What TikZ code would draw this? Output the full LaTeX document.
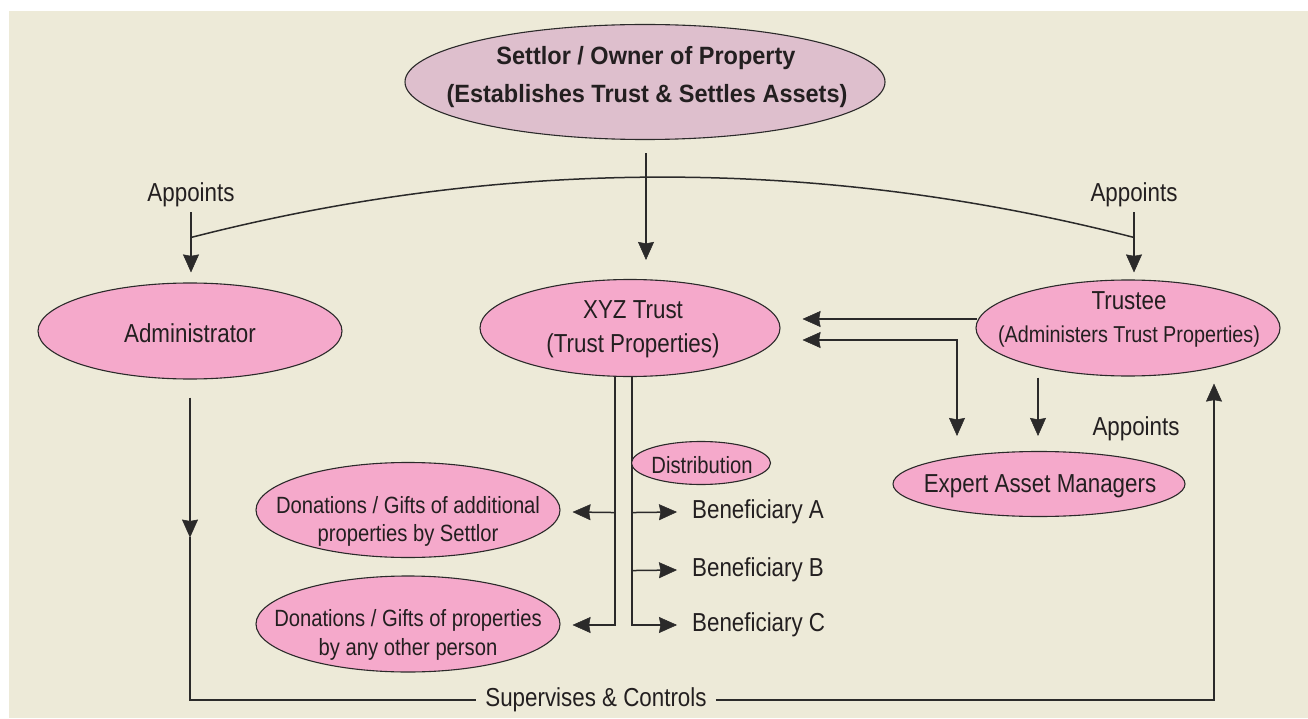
\documentclass[tikz,border=0pt]{standalone}
\usepackage{fontspec}
\setmainfont{Liberation Sans}[FakeStretch=0.86]
\newfontfamily\titlef{Liberation Sans}[FakeStretch=0.94]
\usetikzlibrary{shapes.geometric,arrows.meta,calc}
\definecolor{bgc}{HTML}{EDEAD8}
\definecolor{pinkc}{HTML}{F5A9CB}
\definecolor{mauvec}{HTML}{DEBFCD}
\definecolor{linec}{HTML}{2B2A2A}
\definecolor{txtc}{HTML}{231F20}
\begin{document}
\begin{tikzpicture}[x=1pt,y=-1pt,
  ell/.style={ellipse,draw=linec,line width=1.1pt,fill=pinkc,inner sep=0pt},
  lbl/.style={text=txtc,inner sep=0pt,font=\fontsize{26}{31}\selectfont},
  small/.style={text=txtc,inner sep=0pt,font=\fontsize{23.5}{28}\selectfont},
  ttl/.style={text=txtc,inner sep=0pt,font=\titlef\bfseries\fontsize{25}{30}\selectfont},
  conn/.style={draw=linec,line width=1.5pt},
  tipshape/.tip={Stealth[length=18pt,width=16pt,inset=1.5pt,line width=0.5pt]},
  arr/.style={conn,-tipshape},
  darr/.style={conn,tipshape-tipshape}
]
\useasboundingbox (0,0) rectangle (1308,719);
\fill[white] (0,0) rectangle (1308,719);
\fill[bgc] (9,11) rectangle (1308,718);

% ellipses
\node[ell,fill=mauvec,minimum width=480pt,minimum height=115pt] (settlor) at (645,82) {};
\node[ell,minimum width=304pt,minimum height=96pt] (admin) at (190,331) {};
\node[ell,minimum width=300pt,minimum height=97pt] (xyz) at (630,328) {};
\node[ell,minimum width=304pt,minimum height=96pt] (trustee) at (1128,328) {};
\node[ell,minimum width=292pt,minimum height=65pt] (expert) at (1039,484) {};
\node[ell,minimum width=304pt,minimum height=95pt] (don1) at (408,510) {};
\node[ell,minimum width=304pt,minimum height=96pt] (don2) at (408,624) {};

% texts
\node[ttl,anchor=base] (t1) at (646,65) {Settlor / Owner of Property};
\node[ttl,anchor=base] (t2) at (647,103) {(Establishes Trust \& Settles Assets)};
\node[lbl,anchor=base] (admint) at (190,342) {Administrator};
\node[lbl,anchor=base] (xyzt1) at (633,318) {XYZ Trust};
\node[lbl,anchor=base] (xyzt2) at (633,352) {(Trust Properties)};
\node[lbl,anchor=base] (trt1) at (1129,309) {Trustee};
\node[lbl,anchor=base,font=\fontsize{23}{28}\selectfont] (trt2) at (1129,342) {(Administers Trust Properties)};
\node[lbl,anchor=base] (expt) at (1040,492) {Expert Asset Managers};
\node[small,anchor=base] (d1a) at (408,513) {Donations / Gifts of additional};
\node[small,anchor=base] (d1b) at (408,541) {properties by Settlor};
\node[small,anchor=base] (d2a) at (408,626) {Donations / Gifts of properties};
\node[small,anchor=base] (d2b) at (408,655) {by any other person};
\node[lbl,anchor=base] (apL) at (191,202) {Appoints};
\node[lbl,anchor=base] (apR) at (1134,202) {Appoints};
\node[lbl,anchor=base] (apE) at (1136,435) {Appoints};
\node[lbl,anchor=west] (benA) at (692,512) {Beneficiary A};
\node[lbl,anchor=west] (benB) at (692,570) {Beneficiary B};
\node[lbl,anchor=west] (benC) at (692,625) {Beneficiary C};
\node[lbl,inner xsep=9pt] (sup) at (596,700) {Supervises \& Controls};

% connectors
\draw[arr] ($(settlor.south)+(1,13)$) -- ($(xyz.north)+(16,-19)$);
\draw[conn] ($(admin.north)+(1,-45)$) .. controls (505,157) and (820,157) .. ($(trustee.north)+(6,-42)$);
\draw[arr] ($(admin.north)+(1,-70)$) -- ($(admin.north)+(1,-10)$);
\draw[arr] ($(trustee.north)+(6,-67)$) -- ($(trustee.north)+(6,-7)$);
\draw[arr] ($(trustee.west)+(2,-9)$) -- ($(xyz.east)+(22,-9)$);
\draw[darr] ($(xyz.east)+(22,12)$) -| ($(expert.north)+(-82,-15)$);
\draw[arr] ($(trustee.south)+(-90,1)$) -- ($(expert.north)+(-1,-15)$);
\draw[arr] ($(admin.south)+(0,18)$) -- ($(admin.south)+(0,158)$);
\draw[conn] ($(admin.south)+(0,157)$) |- (sup.west);
\draw[arr] (sup.east) -| ($(trustee.south)+(86,7)$);
\draw[arr] ($(xyz.south)+(-15,0)$) |- ($(don2.east)+(12,1)$);
\draw[arr] ($(xyz.south)+(-15,135.5)$) -- ($(don1.east)+(12,2)$);
\draw[arr] ($(xyz.south)+(2,0)$) |- ($(benC.west)+(-15,0)$);
\draw[arr] ($(xyz.south)+(2,135.5)$) -- ($(benA.west)+(-15,0)$);
\draw[arr] ($(xyz.south)+(2,193.5)$) -- ($(benB.west)+(-15,0)$);

% distribution
\node[ell,minimum width=139pt,minimum height=43pt] (distrib) at (701,463) {};
\node[small,anchor=base] (distt) at (702,473) {Distribution};
\end{tikzpicture}
\end{document}
